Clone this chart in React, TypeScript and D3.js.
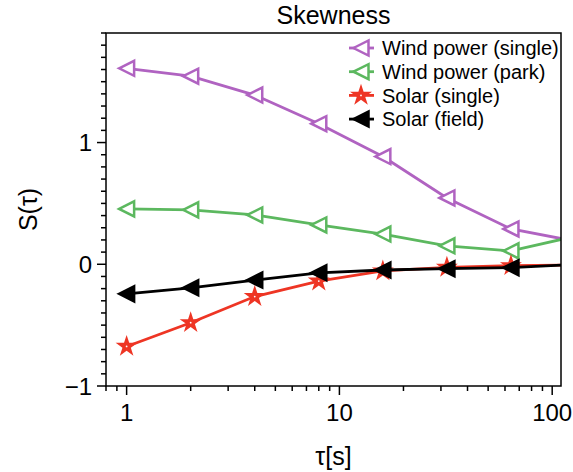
import React from 'react';
import * as d3 from 'd3';

const tau = [1, 2, 4, 8, 16, 32, 64, 128];
const windSingle = [1.61, 1.545, 1.39, 1.155, 0.885, 0.545, 0.29, 0.19];
const windPark = [0.455, 0.447, 0.405, 0.323, 0.248, 0.152, 0.11, 0.23];
const solarSingle = [-0.675, -0.48, -0.265, -0.138, -0.055, -0.025, -0.012, -0.005];
const solarField = [-0.243, -0.193, -0.13, -0.07, -0.047, -0.036, -0.028, -0.002];

const seriesNames = ['Wind power (single)', 'Wind power (park)', 'Solar (single)', 'Solar (field)'];
const seriesColors = ['#b063c1', '#5cb85f', '#ee3524', '#000000'];
const seriesMarkers = ['triOpen', 'triOpen', 'star', 'triFilled'];
const seriesValues = [windSingle, windPark, solarSingle, solarField];

const xMajor = [1, 10, 100];
const yMajor = [-1, 0, 1];

const width = 573;
const height = 472;
const margin = { top: 33, left: 106, bottom: 86, right: 12 };
const font = 'Liberation Sans, Arial, Helvetica, sans-serif';

function Marker({ kind, color, x, y }: { kind: string; color: string; x: number; y: number }) {
  if (kind === 'star') {
    const star = d3.symbol().type(d3.symbolStar).size(150)();
    return (
      <g transform={`translate(${x},${y})`}>
        <path d={star as string} fill={color} />
        <circle r={0.9} fill="#fff" />
      </g>
    );
  }
  const r = 7.5;
  const pts = `${-r},0 ${r},${-r} ${r},${r}`;
  return (
    <polygon
      transform={`translate(${x},${y})`}
      points={pts}
      fill={kind === 'triFilled' ? color : '#fff'}
      stroke={color}
      strokeWidth={2.5}
      strokeLinejoin="miter"
    />
  );
}

export default function App() {
  const x0 = margin.left;
  const x1 = width - margin.right;
  const y0 = height - margin.bottom;
  const y1 = margin.top;

  const x = d3.scaleLog().domain([0.8, 110]).range([x0, x1]);
  const y = d3.scaleLinear().domain([-1, 1.9]).range([y0, y1]);

  const line = d3
    .line<number>()
    .x((_, i) => x(tau[i]))
    .y((d) => y(d));

  const xMinor: number[] = [];
  [0.1, 1, 10].forEach((dec) => {
    for (let k = 1; k <= 9; k++) {
      const v = k * dec;
      if (v >= 0.8 && v <= 110 && !xMajor.includes(v)) xMinor.push(v);
    }
  });
  const yMinor = d3.range(-10, 20).map((k) => k / 10).filter((v) => !yMajor.includes(v));

  return (
    <svg width={width} height={height} style={{ position: 'absolute', left: 0, top: 0 }} fontFamily={font}>
      <defs>
        <clipPath id="plot">
          <rect x={x0} y={y1} width={x1 - x0} height={y0 - y1} />
        </clipPath>
      </defs>
      <rect width={width} height={height} fill="#fff" />

      <g clipPath="url(#plot)">
        {seriesValues.map((vals, s) => (
          <g key={s}>
            <path d={line(vals) as string} fill="none" stroke={seriesColors[s]} strokeWidth={2.8} />
            {vals.map((v, i) => (
              <Marker key={i} kind={seriesMarkers[s]} color={seriesColors[s]} x={x(tau[i])} y={y(v)} />
            ))}
          </g>
        ))}
      </g>

      {/* frame */}
      <rect x={x0} y={y1} width={x1 - x0} height={y0 - y1} fill="none" stroke="#000" strokeWidth={1.5} />

      {/* x ticks */}
      {xMajor.map((v) => (
        <g key={v} transform={`translate(${x(v)},${y0})`}>
          <line y2={9} stroke="#000" strokeWidth={1.5} />
          <text y={35} textAnchor="middle" fontSize={24}>{v}</text>
        </g>
      ))}
      {xMinor.map((v) => (
        <line key={v} x1={x(v)} x2={x(v)} y1={y0} y2={y0 + 5} stroke="#000" strokeWidth={1.5} />
      ))}

      {/* y ticks */}
      {yMajor.map((v) => (
        <g key={v} transform={`translate(${x0},${y(v)})`}>
          <line x2={-9} stroke="#000" strokeWidth={1.5} />
          <text x={-14} dy="0.36em" textAnchor="end" fontSize={24}>{v < 0 ? '\u2212' + Math.abs(v) : v}</text>
        </g>
      ))}
      {yMinor.map((v) => (
        <line key={v} x1={x0} x2={x0 - 5} y1={y(v)} y2={y(v)} stroke="#000" strokeWidth={1.5} />
      ))}

      {/* title and labels */}
      <text x={(x0 + x1) / 2} y={24} textAnchor="middle" fontSize={25}>Skewness</text>
      <text x={(x0 + x1) / 2} y={465} textAnchor="middle" fontSize={25}>τ[s]</text>
      <text transform={`translate(37,${(y0 + y1) / 2}) rotate(-90)`} textAnchor="middle" fontSize={25}>S(τ)</text>

      {/* legend */}
      {seriesNames.map((name, s) => {
        const ly = 48 + s * 23.7;
        return (
          <g key={name}>
            <line x1={349} x2={374} y1={ly} y2={ly} stroke={seriesColors[s]} strokeWidth={2.8} />
            <Marker kind={seriesMarkers[s]} color={seriesColors[s]} x={361} y={ly} />
            <text x={382} y={ly} dy="0.36em" fontSize={20}>{name}</text>
          </g>
        );
      })}
    </svg>
  );
}
